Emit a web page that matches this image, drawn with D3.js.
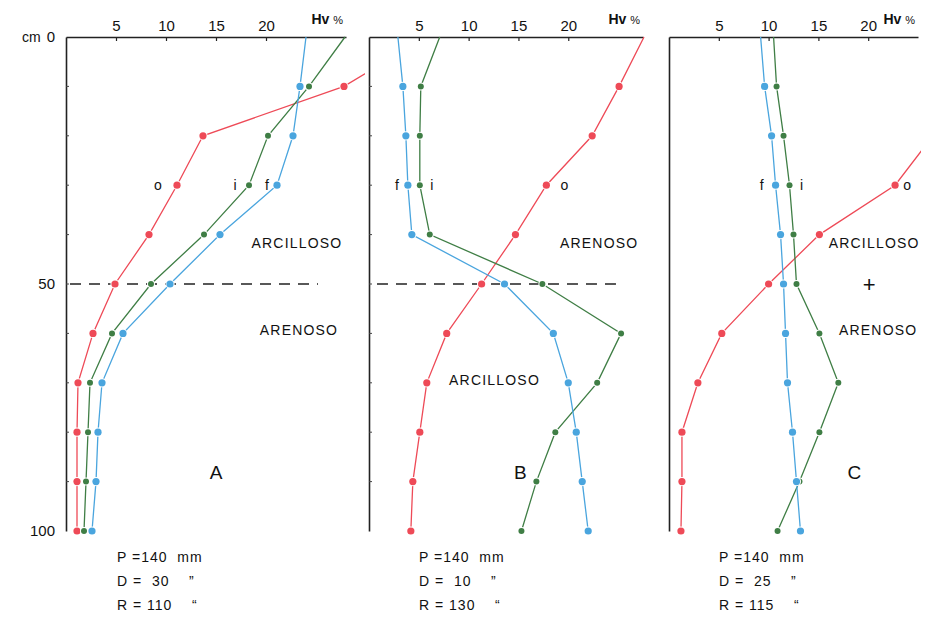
<!DOCTYPE html>
<html>
<head>
<meta charset="utf-8">
<script src="https://cdn.jsdelivr.net/npm/d3@7"></script>
<style>
    body { margin: 0; background: #ffffff; }
    text { font-family: "Liberation Sans", Arial, sans-serif; fill: #111; }
</style>
</head>
<body>
<script>
// depth of each reading (cm)
const depths = [0, 10, 20, 30, 40, 50, 60, 70, 80, 90, 100];

// Hv % readings, o = red, i = green, f = blue
const aRed   = [36, 27.8, 13.7, 11.1, 8.3, 4.9, 2.7, 1.2, 1.1, 1.1, 1.1];
const aGreen = [27.9, 24.3, 20.2, 18.3, 13.8, 8.5, 4.6, 2.4, 2.2, 2.0, 1.8];
const aBlue  = [24.0, 23.4, 22.7, 21.1, 15.4, 10.4, 5.7, 3.6, 3.2, 3.0, 2.6];

const bRed   = [27.6, 25.1, 22.4, 17.8, 14.7, 11.3, 7.8, 5.8, 5.1, 4.4, 4.2];
const bGreen = [7.1, 5.2, 5.1, 5.1, 6.1, 17.4, 25.3, 22.9, 18.7, 16.8, 15.3];
const bBlue  = [2.9, 3.4, 3.7, 3.9, 4.3, 13.6, 18.5, 20.0, 20.8, 21.4, 22.0];

const cRed   = [null, null, 26.5, 22.7, 15.1, 10.0, 5.3, 2.9, 1.3, 1.3, 1.2];
const cGreen = [10.5, 10.8, 11.5, 12.1, 12.5, 12.8, 15.1, 17.0, 15.1, 13.1, 10.9];
const cBlue  = [9.2, 9.6, 10.3, 10.7, 11.2, 11.5, 11.7, 11.9, 12.4, 12.8, 13.2];

const xTicks = [5, 10, 15, 20];
const yTickLabels = [0, 50, 100];
const soilTop = ["ARCILLOSO", "ARENOSO", "ARCILLOSO"];
const soilBottom = ["ARENOSO", "ARCILLOSO", "ARENOSO"];
const panelNames = ["A", "B", "C"];
const pValues = ["140", "140", "140"];
const dValues = ["30", "10", "25"];
const rValues = ["110", "130", "115"];

const colors = { o: "#ee4a57", i: "#3f7e45", f: "#4aa5de" };

const width = 930, height = 617;
const svg = d3.select("body").append("svg")
    .attr("width", width)
    .attr("height", height);

const y = d3.scaleLinear().domain([0, 100]).range([37, 531]);

const panels = [
    {
        x: d3.scaleLinear().domain([0, 28]).range([66, 346]),
        clipRight: 365,
        series: [["o", aRed], ["i", aGreen], ["f", aBlue]],
        labels: [["o", 9.2, 30], ["i", 16.9, 30], ["f", 20.1, 30]],
        dash: [0.4, 25.2],
        top: [23.1, 42.8], bottom: [23.3, 60.3], letter: [15.0, 88],
        sign: null, leftLabels: true
    },
    {
        x: d3.scaleLinear().domain([0, 27.5]).range([369, 643]),
        clipRight: 650,
        series: [["o", bRed], ["i", bGreen], ["f", bBlue]],
        labels: [["f", 2.8, 30], ["i", 6.3, 30], ["o", 19.6, 30]],
        dash: [0.8, 25.0],
        top: [23.1, 42.8], bottom: [12.6, 70.4], letter: [15.2, 88],
        sign: null, leftLabels: false
    },
    {
        x: d3.scaleLinear().domain([0, 25]).range([669, 918]),
        clipRight: 921,
        series: [["o", cRed], ["i", cGreen], ["f", cBlue]],
        labels: [["f", 9.3, 30], ["i", 13.3, 30], ["o", 23.9, 30]],
        dash: null,
        top: [20.6, 42.8], bottom: [21.0, 60.3], letter: [18.6, 88],
        sign: [20.1, 50], leftLabels: false
    }
];

panels.forEach((p, k) => {
    const x = p.x;
    const g = svg.append("g");
    const x0 = x.range()[0], x1 = x.range()[1];

    // top axis, ticks pointing down into the plot
    const top = g.append("g")
        .attr("transform", `translate(0,${y(0)})`)
        .call(d3.axisTop(x).tickValues(xTicks).tickSizeInner(-4).tickSizeOuter(0).tickPadding(6));
    top.select(".domain").attr("stroke", "#222").attr("stroke-width", 1.4);
    top.selectAll(".tick line").attr("stroke", "#222").attr("stroke-width", 1.2);
    top.selectAll("text").style("font-size", "15px").attr("fill", "#111");

    g.append("text")
        .attr("x", x1 - 3)
        .attr("y", 24)
        .attr("text-anchor", "end")
        .style("font-size", "14px")
        .html('<tspan font-weight="bold">Hv</tspan> <tspan font-size="11px">%</tspan>');

    // left depth axis
    const left = g.append("g")
        .attr("transform", `translate(${x0},0)`)
        .call(d3.axisLeft(y)
            .tickValues(p.leftLabels ? yTickLabels : [])
            .tickSize(0).tickPadding(11));
    left.select(".domain").attr("stroke", "#222").attr("stroke-width", 1.6);
    left.selectAll("text").style("font-size", "15px").attr("fill", "#111");

    if (k < 2) {
        g.selectAll(".minor")
            .data(depths.slice(1, -1))
            .enter().append("line")
            .attr("x1", x0).attr("x2", x0 + 3)
            .attr("y1", d => y(d)).attr("y2", d => y(d))
            .attr("stroke", "#444").attr("stroke-width", 1);
    }

    if (p.leftLabels) {
        g.append("text")
            .attr("x", 22).attr("y", y(0) + 5)
            .style("font-size", "14px")
            .text("cm");
    }

    // boundary between soil layers
    if (p.dash) {
        g.append("line")
            .attr("x1", x(p.dash[0])).attr("x2", x(p.dash[1]))
            .attr("y1", y(50)).attr("y2", y(50))
            .attr("stroke", "#222").attr("stroke-width", 1.5)
            .attr("stroke-dasharray", "11,8");
    }

    const clipId = "clip" + k;
    svg.append("clipPath").attr("id", clipId)
        .append("rect")
        .attr("x", x0).attr("y", 0)
        .attr("width", p.clipRight - x0).attr("height", height);

    const line = d3.line()
        .defined(d => d.v != null)
        .x(d => x(d.v))
        .y(d => y(d.d));

    p.series.forEach(([key, vals]) => {
        const pts = depths.map((d, i) => ({ d: d, v: vals[i] }));
        g.append("path")
            .datum(pts)
            .attr("clip-path", `url(#${clipId})`)
            .attr("fill", "none")
            .attr("stroke", colors[key])
            .attr("stroke-width", 1.3)
            .attr("d", line);

        g.selectAll(".dot-" + key)
            .data(pts.filter(d => d.d > 0 && d.v != null && d.v <= x.domain()[1]))
            .enter().append("circle")
            .attr("cx", d => x(d.v))
            .attr("cy", d => y(d.d))
            .attr("r", key === "i" ? 3 : 3.6)
            .attr("fill", colors[key])
            .attr("stroke", "#fff")
            .attr("stroke-width", 2)
            .attr("paint-order", "stroke");
    });

    // series labels
    g.selectAll(".slabel")
        .data(p.labels)
        .enter().append("text")
        .attr("x", d => x(d[1]))
        .attr("y", d => y(d[2]) + 5)
        .attr("text-anchor", "middle")
        .style("font-size", "14px")
        .text(d => d[0]);

    g.append("text")
        .attr("x", x(p.top[0])).attr("y", y(p.top[1]))
        .attr("text-anchor", "middle")
        .style("font-size", "14px").style("letter-spacing", "1.2px")
        .text(soilTop[k]);

    g.append("text")
        .attr("x", x(p.bottom[0])).attr("y", y(p.bottom[1]))
        .attr("text-anchor", "middle")
        .style("font-size", "14px").style("letter-spacing", "1.2px")
        .text(soilBottom[k]);

    if (p.sign) {
        g.append("text")
            .attr("x", x(p.sign[0])).attr("y", y(p.sign[1]) + 8)
            .attr("text-anchor", "middle")
            .style("font-size", "22px")
            .text("+");
    }

    g.append("text")
        .attr("x", x(p.letter[0])).attr("y", y(p.letter[1]) + 7)
        .attr("text-anchor", "middle")
        .style("font-size", "19px")
        .text(panelNames[k]);

    // rainfall notes under each panel
    const notes = [
        `P =${pValues[k]}  mm`,
        `D =  ${dValues[k]}    \u201d`,
        `R = ${rValues[k]}    \u201c`
    ];
    g.selectAll(".note")
        .data(notes)
        .enter().append("text")
        .attr("x", x0 + (k === 0 ? 51 : 50))
        .attr("y", (d, i) => 562 + i * 24)
        .style("font-size", "14px")
        .style("letter-spacing", "1px")
        .attr("xml:space", "preserve")
        .style("white-space", "pre")
        .text(d => d);
});
</script>
</body>
</html>
